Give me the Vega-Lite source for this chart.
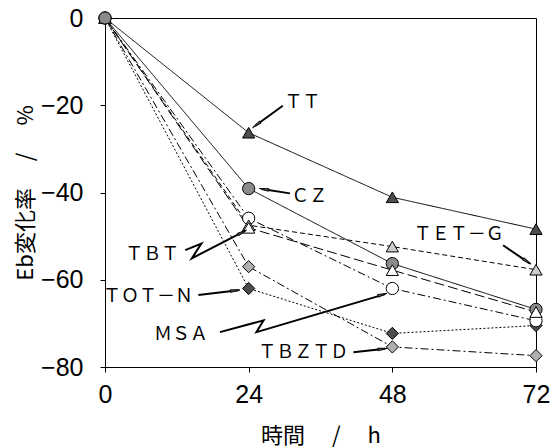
{
  "$schema": "https://vega.github.io/schema/vega-lite/v6.json",
  "autosize": "none",
  "width": 431,
  "height": 349,
  "padding": {"left": 105, "top": 18, "right": 19, "bottom": 81},
  "background": "white",
  "config": {
    "view": {"stroke": "black", "strokeWidth": 1},
    "axis": {
      "grid": false,
      "domainColor": "black",
      "tickColor": "black",
      "labelColor": "black",
      "titleColor": "black",
      "labelFont": "Liberation Sans Narrow, Liberation Sans, sans-serif",
      "labelFontSize": 25,
      "titleFont": "Noto Sans CJK JP",
      "titleFontSize": 22,
      "titleFontWeight": "normal",
      "tickSize": 5
    }
  },
  "datasets": {
    "series": [
      {"s": "TT", "x": 0, "y": 0}, {"s": "TT", "x": 24, "y": -26.3}, {"s": "TT", "x": 48, "y": -41.1}, {"s": "TT", "x": 72, "y": -48.4},
      {"s": "TOT-N", "x": 0, "y": 0}, {"s": "TOT-N", "x": 24, "y": -62.0}, {"s": "TOT-N", "x": 48, "y": -72.3}, {"s": "TOT-N", "x": 72, "y": -70.5},
      {"s": "TBZTD", "x": 0, "y": 0}, {"s": "TBZTD", "x": 24, "y": -57.0}, {"s": "TBZTD", "x": 48, "y": -75.4}, {"s": "TBZTD", "x": 72, "y": -77.4},
      {"s": "MSA", "x": 0, "y": 0}, {"s": "MSA", "x": 24, "y": -45.9}, {"s": "MSA", "x": 48, "y": -62.0}, {"s": "MSA", "x": 72, "y": -69.4},
      {"s": "TET-G", "x": 0, "y": 0}, {"s": "TET-G", "x": 24, "y": -47.5}, {"s": "TET-G", "x": 48, "y": -52.4}, {"s": "TET-G", "x": 72, "y": -57.7},
      {"s": "CZ", "x": 24, "y": -39.1}, {"s": "CZ", "x": 48, "y": -56.3}, {"s": "CZ", "x": 72, "y": -66.8},
      {"s": "TBT", "x": 0, "y": 0}, {"s": "TBT", "x": 24, "y": -48.1}, {"s": "TBT", "x": 48, "y": -57.8}, {"s": "TBT", "x": 72, "y": -67.4},
      {"s": "CZ", "x": 0, "y": 0}
    ],
    "arrows": [
      {"a": "TT", "o": 1, "x": 29.7, "y": -20.1}, {"a": "TT", "o": 2, "x": 25.1, "y": -24.7},
      {"a": "CZ", "o": 1, "x": 30.9, "y": -40.2}, {"a": "CZ", "o": 2, "x": 26.2, "y": -39.2},
      {"a": "TET-G", "o": 1, "x": 66.5, "y": -52.1}, {"a": "TET-G", "o": 2, "x": 71.0, "y": -56.3},
      {"a": "TOT-N", "o": 1, "x": 15.6, "y": -63.5}, {"a": "TOT-N", "o": 2, "x": 22.3, "y": -62.4},
      {"a": "TBZTD", "o": 1, "x": 41.5, "y": -76.6}, {"a": "TBZTD", "o": 2, "x": 46.8, "y": -75.8},
      {"a": "TBT", "o": 1, "x": 13.4, "y": -53.2}, {"a": "TBT", "o": 2, "x": 16.1, "y": -51.7}, {"a": "TBT", "o": 3, "x": 14.5, "y": -55.1}, {"a": "TBT", "o": 4, "x": 23.4, "y": -48.8},
      {"a": "MSA", "o": 1, "x": 19.2, "y": -72.0}, {"a": "MSA", "o": 2, "x": 26.5, "y": -69.3}, {"a": "MSA", "o": 3, "x": 25.3, "y": -72.0}, {"a": "MSA", "o": 4, "x": 46.8, "y": -63.3}
    ],
    "heads": [
      {"a": "TT", "x": 25.5, "y": -24.3},
      {"a": "CZ", "x": 26.8, "y": -39.3},
      {"a": "TET-G", "x": 70.3, "y": -55.6},
      {"a": "TOT-N", "x": 21.5, "y": -62.5},
      {"a": "TBZTD", "x": 46.1, "y": -75.9},
      {"a": "TBT", "x": 22.7, "y": -49.3},
      {"a": "MSA", "x": 46.1, "y": -63.5}
    ],
    "labels": [
      {"label": "ＴＴ", "x": 33.0, "y": -19.5},
      {"label": "ＣＺ", "x": 34.1, "y": -41.0},
      {"label": "ＴＥＴ－Ｇ", "x": 59.1, "y": -49.8},
      {"label": "ＴＢＴ", "x": 7.9, "y": -54.4},
      {"label": "ＴＯＴ－Ｎ", "x": 7.2, "y": -63.9},
      {"label": "ＭＳＡ", "x": 12.7, "y": -72.7},
      {"label": "ＴＢＺＴＤ", "x": 33.1, "y": -76.9}
    ]
  },
  "encoding": {
    "x": {
      "field": "x", "type": "quantitative",
      "scale": {"domain": [0, 72], "nice": false, "zero": false},
      "axis": {"values": [0, 24, 48, 72], "title": "時間　 /　  h", "labelPadding": 10, "titleY": 68, "titleBaseline": "middle", "labelFlush": false}
    },
    "y": {
      "field": "y", "type": "quantitative",
      "scale": {"domain": [-80, 0], "nice": false},
      "axis": {"values": [0, -20, -40, -60, -80], "title": "Eb変化率　 /　  %", "labelPadding": 17, "titleX": -80, "titleBaseline": "middle", "labelFlush": false}
    }
  },
  "layer": [
    {
      "data": {"name": "series"},
      "mark": {"type": "line", "color": "black", "strokeWidth": 1},
      "encoding": {
        "detail": {"field": "s"},
        "strokeDash": {
          "field": "s", "type": "nominal", "legend": null,
          "scale": {
            "domain": ["TT", "CZ", "TBT", "MSA", "TET-G", "TOT-N", "TBZTD"],
            "range": [[1, 0], [1, 0], [10, 4], [8, 3, 2, 3], [5, 3], [2, 2], [8, 3, 2, 3]]
          }
        }
      }
    },
    {
      "data": {"name": "series"},
      "mark": {"type": "point", "filled": true, "stroke": "black", "strokeWidth": 1, "opacity": 1, "size": 150},
      "encoding": {
        "shape": {
          "field": "s", "type": "nominal", "legend": null,
          "scale": {
            "domain": ["TT", "CZ", "TBT", "MSA", "TET-G", "TOT-N", "TBZTD"],
            "range": ["triangle-up", "circle", "triangle-up", "circle", "triangle-up", "diamond", "diamond"]
          }
        },
        "fill": {
          "field": "s", "type": "nominal", "legend": null,
          "scale": {
            "domain": ["TT", "CZ", "TBT", "MSA", "TET-G", "TOT-N", "TBZTD"],
            "range": ["#4d4d4d", "#8a8a8a", "#ffffff", "#ffffff", "#cccccc", "#4d4d4d", "#b0b0b0"]
          }
        }
      }
    },
    {
      "data": {"name": "arrows"},
      "mark": {"type": "line", "color": "black", "strokeWidth": 2},
      "encoding": {
        "detail": {"field": "a"},
        "order": {"field": "o", "type": "quantitative"}
      }
    },
    {
      "data": {"name": "heads"},
      "transform": [{"filter": "datum.a == 'TT'"}],
      "mark": {"type": "point", "shape": "wedge", "angle": 234, "filled": true, "fill": "#555555", "stroke": "black", "strokeWidth": 0.8, "size": 120, "opacity": 1}
    },
    {
      "data": {"name": "heads"},
      "transform": [{"filter": "datum.a == 'CZ'"}],
      "mark": {"type": "point", "shape": "wedge", "angle": 279, "filled": true, "fill": "#555555", "stroke": "black", "strokeWidth": 0.8, "size": 120, "opacity": 1}
    },
    {
      "data": {"name": "heads"},
      "transform": [{"filter": "datum.a == 'TET-G'"}],
      "mark": {"type": "point", "shape": "wedge", "angle": 124, "filled": true, "fill": "#555555", "stroke": "black", "strokeWidth": 0.8, "size": 120, "opacity": 1}
    },
    {
      "data": {"name": "heads"},
      "transform": [{"filter": "datum.a == 'TOT-N'"}],
      "mark": {"type": "point", "shape": "wedge", "angle": 83, "filled": true, "fill": "#555555", "stroke": "black", "strokeWidth": 0.8, "size": 120, "opacity": 1}
    },
    {
      "data": {"name": "heads"},
      "transform": [{"filter": "datum.a == 'TBZTD'"}],
      "mark": {"type": "point", "shape": "wedge", "angle": 84, "filled": true, "fill": "#555555", "stroke": "black", "strokeWidth": 0.8, "size": 120, "opacity": 1}
    },
    {
      "data": {"name": "heads"},
      "transform": [{"filter": "datum.a == 'TBT'"}],
      "mark": {"type": "point", "shape": "wedge", "angle": 63, "filled": true, "fill": "#555555", "stroke": "black", "strokeWidth": 0.8, "size": 120, "opacity": 1}
    },
    {
      "data": {"name": "heads"},
      "transform": [{"filter": "datum.a == 'MSA'"}],
      "mark": {"type": "point", "shape": "wedge", "angle": 74, "filled": true, "fill": "#555555", "stroke": "black", "strokeWidth": 0.8, "size": 120, "opacity": 1}
    },
    {
      "data": {"name": "labels"},
      "mark": {"type": "text", "font": "Noto Sans CJK JP", "fontSize": 18, "color": "black", "align": "center", "baseline": "middle"},
      "encoding": {"text": {"field": "label"}}
    }
  ]
}
